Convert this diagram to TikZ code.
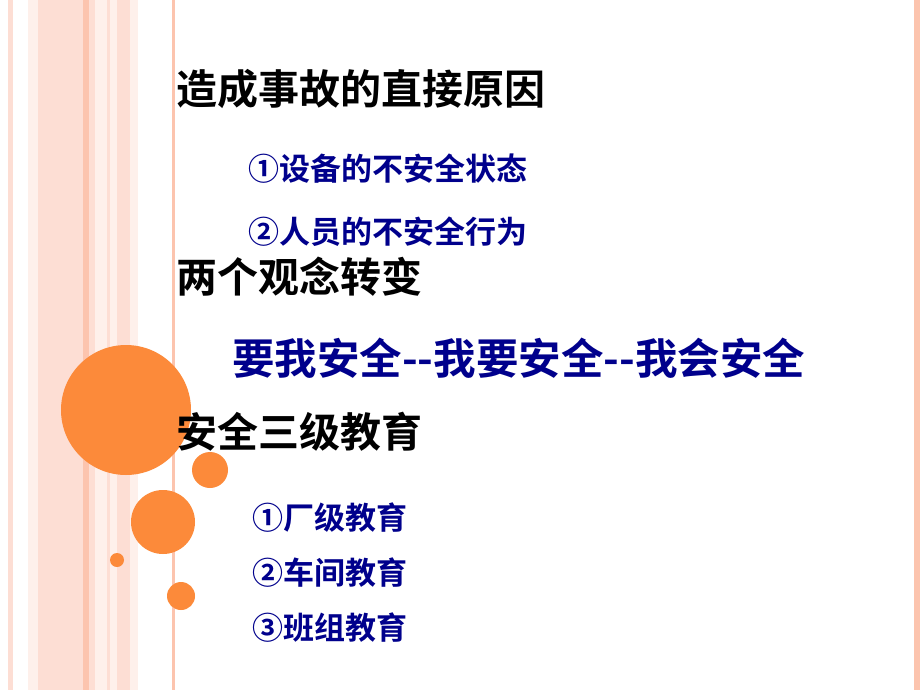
\documentclass[tikz,border=0pt]{standalone}
\usepackage{fontspec}
\setmainfont{Noto Sans CJK SC}[BoldFont={Noto Sans CJK SC Bold}]
\begin{document}
\begin{tikzpicture}[x=1pt,y=-1pt,
  blk/.style={anchor=west,inner sep=0,font=\fontsize{41}{41}\selectfont\bfseries,text=black},
  itm/.style={anchor=west,inner sep=0,font=\fontsize{31}{31}\selectfont\bfseries,text=blue!55!black},
  big/.style={anchor=west,inner sep=0,font=\fontsize{42.5}{42.5}\selectfont\bfseries,text=blue!55!black}]
\useasboundingbox (0,0) rectangle (920,690);
\fill[white] (0,0) rectangle (920,690);
\definecolor{s1}{HTML}{FDDED4}\definecolor{s2}{HTML}{FCC4AE}\definecolor{s3}{HTML}{FEF0EB}
\fill[s1] (8,0) rectangle (13,690);
\fill[s3] (28,0) rectangle (38,690);
\fill[s1] (38,0) rectangle (83,690);
\fill[s2] (83,0) rectangle (89,690);
\fill[s1] (89,0) rectangle (95,690);
\fill[s3] (95,0) rectangle (107,690);
\fill[s1] (107,0) rectangle (110,690);
\fill[s3] (110,0) rectangle (117,690);
\fill[s1] (117,0) rectangle (130,690);
\fill[s3] (130,0) rectangle (138,690);
\fill[s2] (172,0) rectangle (175,690);
\fill[s2] (914,0) rectangle (920,690);
\definecolor{orng}{HTML}{FC8A3A}
\fill[orng] (126,410) circle (65);
\fill[orng] (210,470) circle (18);
\fill[orng] (163,522) circle (32);
\fill[orng] (117,560) circle (7);
\fill[orng] (181,596) circle (14);
\node[blk] (t1) at (176,89) {造成事故的直接原因};
\node[itm] (a1) at (248,169) {①设备的不安全状态};
\node[itm] (a2) at (248,232) {②人员的不安全行为};
\node[blk] (t2) at (176,277) {两个观念转变};
\node[big] (b1) at (232,358) {要我安全-{}-我要安全-{}-我会安全};
\node[blk] (t3) at (176,432) {安全三级教育};
\node[itm] (c1) at (252,518) {①厂级教育};
\node[itm] (c2) at (252,573) {②车间教育};
\node[itm] (c3) at (252,628) {③班组教育};
\end{tikzpicture}
\end{document}
